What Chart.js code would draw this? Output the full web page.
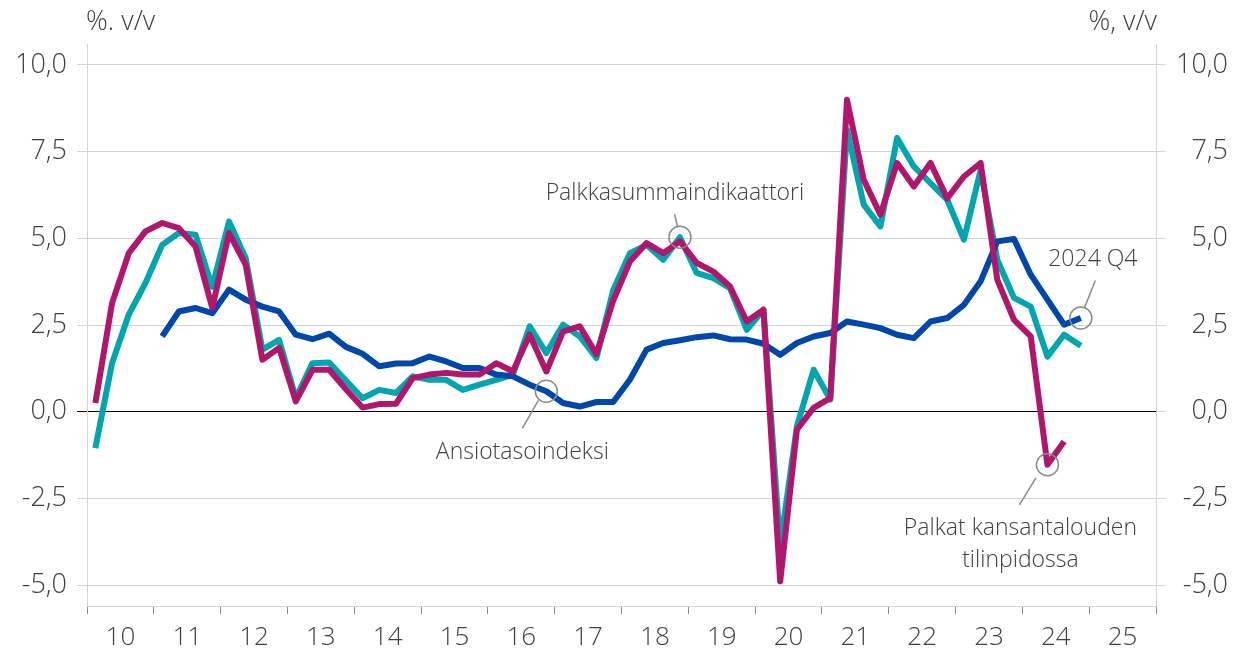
<!DOCTYPE html>
<html>
<head>
<meta charset="utf-8">
<script src="https://cdn.jsdelivr.net/npm/chart.js@4.4.1/dist/chart.umd.min.js"></script>
<style>
    html, body { margin: 0; padding: 0; background: #fff; }
    #wrap { width: 1236px; height: 652px; }
</style>
</head>
<body>
<div id="wrap"><canvas id="lineChart"></canvas></div>
<script>
// vuodet x-akselilla, neljännekset 2010Q1 - 2025Q4
const years = ['10', '11', '12', '13', '14', '15', '16', '17', '18', '19', '20', '21', '22', '23', '24', '25'];
const quarters = [];
years.forEach(function (yy) {
    ['Q1', 'Q2', 'Q3', 'Q4'].forEach(function (q) { quarters.push('20' + yy + q); });
});
const yTicks = [-5, -2.5, 0, 2.5, 5, 7.5, 10];

// Palkkasummaindikaattori, 2010Q1 - 2024Q4
const palkkasumma = [
    -1.05, 1.40, 2.80, 3.71, 4.81, 5.15, 5.10, 3.60,
    5.48, 4.43, 1.79, 2.07, 0.39, 1.40, 1.42, 0.90,
    0.39, 0.63, 0.54, 1.02, 0.92, 0.92, 0.63, 0.78,
    0.92, 1.07, 2.46, 1.69, 2.51, 2.17, 1.55, 3.50,
    4.57, 4.81, 4.38, 5.03, 4.00, 3.85, 3.56, 2.36,
    2.94, -3.88, -0.42, 1.21, 0.35, 8.13, 5.97, 5.34,
    7.89, 7.07, 6.59, 6.11, 4.96, 6.97, 4.38, 3.28,
    3.03, 1.59, 2.22, 1.90
];

// Ansiotasoindeksi, alkaa 2011Q1
const ansiotaso = [
    null, null, null, null, 2.17, 2.89, 2.99, 2.84,
    3.52, 3.23, 3.03, 2.89, 2.22, 2.09, 2.25, 1.87,
    1.67, 1.31, 1.39, 1.40, 1.59, 1.45, 1.26, 1.26,
    1.07, 1.02, 0.78, 0.59, 0.25, 0.15, 0.28, 0.28,
    0.92, 1.79, 1.98, 2.06, 2.15, 2.20, 2.09, 2.08,
    1.96, 1.64, 1.98, 2.17, 2.27, 2.60, 2.51, 2.41,
    2.22, 2.12, 2.60, 2.70, 3.08, 3.76, 4.91, 4.98,
    3.95, 3.23, 2.51, 2.70
];

// Palkat kansantalouden tilinpidossa, loppuu 2024Q3
const kansantalous = [
    0.25, 3.13, 4.57, 5.20, 5.44, 5.29, 4.76, 2.99,
    5.15, 4.24, 1.50, 1.84, 0.30, 1.21, 1.21, 0.65,
    0.12, 0.22, 0.23, 0.97, 1.07, 1.12, 1.07, 1.07,
    1.40, 1.16, 2.22, 1.16, 2.31, 2.46, 1.66, 3.20,
    4.33, 4.86, 4.57, 4.91, 4.29, 4.04, 3.61, 2.60,
    2.94, -4.89, -0.52, 0.11, 0.39, 8.99, 6.69, 5.68,
    7.17, 6.49, 7.17, 6.15, 6.78, 7.17, 3.80, 2.65,
    2.17, -1.53, -0.86
];

const fontName = "'Open Sans', 'DejaVu Sans', sans-serif";
const textColor = '#404040';
const gridColor = '#d4d4d4';
const noteColor = '#8a8a8a';

// merkinnät: ympyrä datapisteen kohdalla, viiva ja teksti
const notes = [
    { data: palkkasumma, index: 35, line: [-2.5, -11, -5.5, -23], text: ['Palkkasummaindikaattori'], tx: -5, ty: -44 },
    { data: ansiotaso, index: 27, line: [-8, 9, -24, 37], text: ['Ansiotasoindeksi'], tx: -24, ty: 61 },
    { data: ansiotaso, index: 59, line: [3.5, -10, 14.5, -37.5], text: ['2024 Q4'], tx: 12, ty: -59 },
    { data: kansantalous, index: 57, line: [-11.5, 13, -28, 40], text: ['Palkat kansantalouden', 'tilinpidossa'], tx: -27, ty: 64 }
];

const annotationPlugin = {
    id: 'notes',
    afterDatasetsDraw: function (chart) {
        const ctx = chart.ctx;
        const xs = chart.scales.x;
        const ys = chart.scales.y;
        ctx.save();
        ctx.strokeStyle = noteColor;
        ctx.lineWidth = 1.5;
        ctx.fillStyle = textColor;
        ctx.font = '300 23px ' + fontName;
        ctx.textAlign = 'center';
        ctx.textBaseline = 'middle';
        notes.forEach(function (n) {
            const cx = xs.getPixelForValue(n.index);
            const cy = ys.getPixelForValue(n.data[n.index]);
            ctx.beginPath();
            ctx.arc(cx, cy, 11, 0, Math.PI * 2);
            ctx.stroke();
            ctx.beginPath();
            ctx.moveTo(cx + n.line[0], cy + n.line[1]);
            ctx.lineTo(cx + n.line[2], cy + n.line[3]);
            ctx.stroke();
            n.text.forEach(function (t, k) {
                ctx.fillText(t, cx + n.tx, cy + n.ty + k * 32);
            });
        });
        ctx.restore();
    }
};

const axisTitles = {
    id: 'axisTitles',
    afterDraw: function (chart) {
        const ctx = chart.ctx;
        const area = chart.chartArea;
        ctx.save();
        ctx.fillStyle = textColor;
        ctx.font = '300 27px ' + fontName;
        ctx.textBaseline = 'middle';
        ctx.textAlign = 'left';
        ctx.fillText('%. v/v', area.left - 1, 22);
        ctx.textAlign = 'right';
        ctx.fillText('%, v/v', area.right + 1, 22);
        ctx.restore();
    }
};

function fmt(v) {
    return v.toFixed(1).replace('.', ',');
}

function yAxis(side) {
    return {
        position: side,
        min: -5.6,
        max: 10.6,
        afterBuildTicks: function (axis) {
            axis.ticks = yTicks.map(function (v) { return { value: v }; });
        },
        afterFit: function (axis) {
            axis.width = side === 'left' ? 87 : 72;
        },
        grid: {
            drawOnChartArea: side === 'left',
            tickLength: 10,
            color: function (c) {
                return c.tick && c.tick.value === 0 && side === 'left' ? '#000000' : gridColor;
            }
        },
        border: { color: gridColor },
        ticks: {
            padding: 10,
            color: textColor,
            crossAlign: side === 'left' ? 'near' : 'far',
            font: { family: fontName, size: 27, weight: '300' },
            callback: function (v) { return fmt(v); }
        }
    };
}

new Chart('lineChart', {
    type: 'line',
    data: {
        labels: quarters,
        datasets: [{
            label: 'Palkat kansantalouden tilinpidossa',
            data: kansantalous,
            borderColor: '#b0166b',
            order: 0
        }, {
            label: 'Ansiotasoindeksi',
            data: ansiotaso,
            borderColor: '#0047ab',
            order: 1
        }, {
            label: 'Palkkasummaindikaattori',
            data: palkkasumma,
            borderColor: '#00a5ad',
            order: 2
        }]
    },
    options: {
        responsive: true,
        maintainAspectRatio: false,
        animation: false,
        layout: { padding: { top: 44, left: 0, right: 8, bottom: 0 } },
        elements: {
            line: { borderWidth: 6, tension: 0, borderJoinStyle: 'round', borderCapStyle: 'butt', fill: false },
            point: { radius: 0, hoverRadius: 0 }
        },
        plugins: {
            legend: { display: false },
            tooltip: { enabled: false }
        },
        scales: {
            x: {
                type: 'category',
                offset: true,
                display: false
            },
            years: {
                type: 'category',
                labels: years,
                position: 'bottom',
                offset: true,
                afterFit: function (axis) { axis.height = 46; },
                grid: { offset: true, drawOnChartArea: false, tickLength: 8, color: '#8c8c8c' },
                border: { color: gridColor },
                ticks: {
                    padding: 8,
                    color: textColor,
                    maxRotation: 0,
                    autoSkip: false,
                    font: { family: fontName, size: 26, weight: '300' }
                }
            },
            y: yAxis('left'),
            y2: yAxis('right')
        }
    },
    plugins: [annotationPlugin, axisTitles]
});
</script>
</body>
</html>
